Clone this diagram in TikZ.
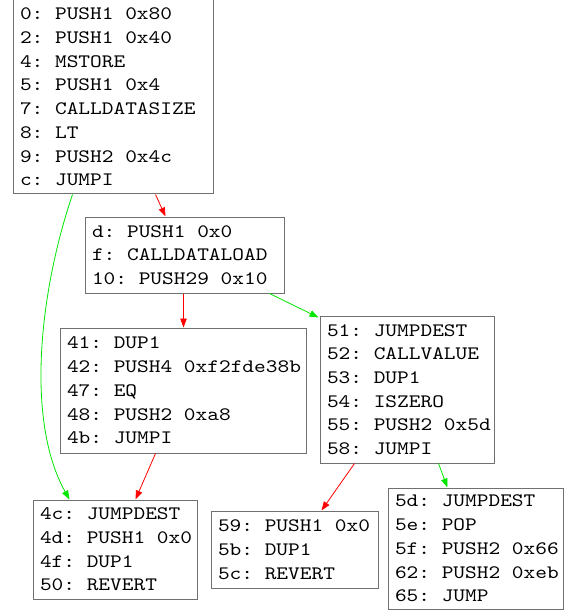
\documentclass[tikz,border=0pt]{standalone}
\usepackage{fontspec}
\newfontfamily\codefont{lmmono10-regular.otf}[FakeStretch=1.173]
\usetikzlibrary{arrows.meta}
\definecolor{boxgray}{RGB}{112,112,112}
\definecolor{edgered}{RGB}{255,0,0}
\definecolor{edgegreen}{RGB}{0,230,0}
\newcommand{\gap}{\hspace*{11.7pt}}
\tikzset{
  blockbox/.style={draw=boxgray, line width=1pt, inner ysep=0pt, inner xsep=7pt,
    align=left, font=\codefont\fontsize{19}{23.7}\selectfont},
  falseedge/.style={draw=edgered, line width=0.8pt, -{Triangle[length=9pt,width=6.5pt]}},
  trueedge/.style={draw=edgegreen, line width=0.8pt, -{Triangle[length=9pt,width=6.5pt]}}
}
\newcommand{\blk}[6]{% name, cx, cy, W, H, text
  \node[blockbox, minimum width=#4pt, minimum height=#5pt, text width=#4pt-14pt] (#1) at (#2,#3) {#6};}
\begin{document}
\begin{tikzpicture}[x=1pt,y=-1pt]
\useasboundingbox (0,0) rectangle (568,612);
\blk{A}{113}{97}{200}{194}{0:\gap PUSH1\gap 0x80\\2:\gap PUSH1\gap 0x40\\4:\gap MSTORE\\5:\gap PUSH1\gap 0x4\\7:\gap CALLDATASIZE\\8:\gap LT\\9:\gap PUSH2\gap 0x4c\\c:\gap JUMPI}
\blk{B}{184.5}{255}{199}{76}{d:\gap PUSH1\gap 0x0\\f:\gap CALLDATALOAD\\10:\gap PUSH29\gap 0x10}
\blk{C}{183}{390.5}{246}{125}{41:\gap DUP1\\42:\gap PUSH4\gap 0xf2fde38b\\47:\gap EQ\\48:\gap PUSH2\gap 0xa8\\4b:\gap JUMPI}
\blk{D}{407}{389.5}{174}{147}{51:\gap JUMPDEST\\52:\gap CALLVALUE\\53:\gap DUP1\\54:\gap ISZERO\\55:\gap PUSH2\gap 0x5d\\58:\gap JUMPI}
\blk{E}{115}{549.5}{164}{99}{4c:\gap JUMPDEST\\4d:\gap PUSH1\gap 0x0\\4f:\gap DUP1\\50:\gap REVERT}
\blk{F}{294.5}{549.5}{167}{77}{59:\gap PUSH1\gap 0x0\\5b:\gap DUP1\\5c:\gap REVERT}
\blk{G}{475.5}{548.5}{175}{121}{5d:\gap JUMPDEST\\5e:\gap POP\\5f:\gap PUSH2\gap 0x66\\62:\gap PUSH2\gap 0xeb\\65:\gap JUMP}
\draw[falseedge] ([xshift=143pt]A.south west) -- ([xshift=81pt]B.north west);
\draw[trueedge] ([xshift=60pt]A.south west) .. controls (40,290) and (25,420) .. ([xshift=37pt]E.north west);
\draw[falseedge] ([xshift=99pt]B.south west) -- ([xshift=124pt]C.north west);
\draw[trueedge] ([xshift=185pt]B.south west) -- ([xshift=-1pt,yshift=-2pt]D.north west);
\draw[falseedge] ([xshift=96pt]C.south west) -- ([xshift=103pt]E.north west);
\draw[falseedge] ([xshift=35pt]D.south west) -- ([xshift=111pt]F.north west);
\draw[trueedge] ([xshift=119pt]D.south west) -- ([xshift=60pt]G.north west);
\end{tikzpicture}
\end{document}
